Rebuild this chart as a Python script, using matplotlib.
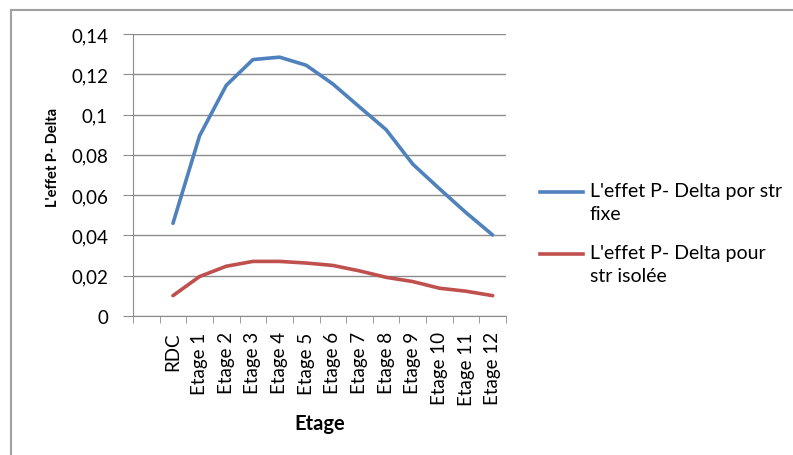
import matplotlib.pyplot as plt
from matplotlib.lines import Line2D
from matplotlib.ticker import FuncFormatter

plt.rcParams['font.family'] = ['Lato', 'DejaVu Sans']

# categories (first slot is empty, as in the original Excel chart)
categories = ['', 'RDC', 'Etage 1', 'Etage 2', 'Etage 3', 'Etage 4', 'Etage 5', 'Etage 6',
              'Etage 7', 'Etage 8', 'Etage 9', 'Etage 10', 'Etage 11', 'Etage 12']
floors = categories[1:]

pdelta_fixe = [0.046, 0.0895, 0.1145, 0.1273, 0.1285, 0.1245, 0.1152, 0.1038,
               0.0925, 0.0754, 0.0632, 0.0513, 0.0402]
pdelta_isolee = [0.0101, 0.0196, 0.0247, 0.0271, 0.0271, 0.0263, 0.0251, 0.0224,
                 0.0192, 0.0171, 0.0138, 0.0123, 0.0101]

labels = ["L'effet P- Delta por str\nfixe", "L'effet P- Delta pour\nstr isolée"]
colors = ['#4F81BD', '#C0504D']

grid_col = '#8c8c8c'

fig = plt.figure(figsize=(7.93, 4.56), dpi=100)
ax = fig.add_axes([133 / 793, 1 - 317 / 456, 373 / 793, 282 / 456])

xpos = [categories.index(f) for f in floors]
ax.plot(xpos, pdelta_fixe, color=colors[0], lw=2.6, solid_capstyle='round')
ax.plot(xpos, pdelta_isolee, color=colors[1], lw=2.6, solid_capstyle='round')

ax.set_xlim(-0.5, len(categories) - 0.5)
ax.set_ylim(0, 0.14)
ax.set_yticks([0, 0.02, 0.04, 0.06, 0.08, 0.1, 0.12, 0.14])
ax.yaxis.set_major_formatter(FuncFormatter(lambda v, p: ('%g' % round(v, 2)).replace('.', ',')))
ax.grid(axis='y', color=grid_col, lw=1)
ax.set_axisbelow(True)

# category labels centred, tick marks between categories
ax.set_xticks(range(len(categories)))
ax.set_xticklabels(categories, rotation=90, fontsize=13.5)
ax.set_xticks([i - 0.5 for i in range(len(categories) + 1)], minor=True)
ax.tick_params(axis='x', which='major', length=0, pad=11)
ax.tick_params(axis='x', which='minor', length=5, color=grid_col, direction='out')
ax.tick_params(axis='y', length=7, color=grid_col, labelsize=13.5, pad=11)

for s in ['top', 'right']:
    ax.spines[s].set_visible(False)
for s in ['left', 'bottom']:
    ax.spines[s].set_color(grid_col)

ax.set_ylabel("L'effet P- Delta", fontsize=10.5, fontweight='bold', va='center')
ax.yaxis.set_label_coords((53 - 133) / 373, (317 - 158) / 282)
ax.set_xlabel('Etage', fontsize=14.5, fontweight='bold', va='center')
ax.xaxis.set_label_coords(0.5, -(424 - 317) / 282)

# legend, Excel style: handle aligned with first text line
for i, (lab, col) in enumerate(zip(labels, colors)):
    y = 1 - (193 + i * 62) / 456
    fig.add_artist(Line2D([540 / 793, 583 / 793], [y, y], color=col, lw=2.6,
                          transform=fig.transFigure))
    fig.text(590 / 793, y + 10 / 456, lab, fontsize=14, va='top', ha='left',
             linespacing=1.45)

# chart area border (left and top visible)
fig.add_artist(Line2D([11 / 793, 11 / 793], [0, 1 - 11 / 456], color='#a0a0a0', lw=1.5,
                      transform=fig.transFigure))
fig.add_artist(Line2D([11 / 793, 1], [1 - 11 / 456, 1 - 11 / 456], color='#a0a0a0', lw=1.5,
                      transform=fig.transFigure))

fig.savefig('out.png', dpi=100)
